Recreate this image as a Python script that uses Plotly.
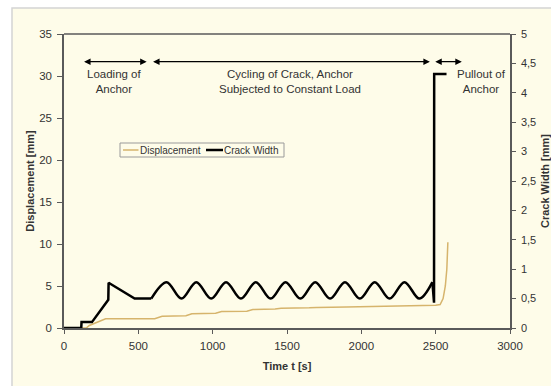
import plotly.graph_objects as go

# ---- data ----
disp_t = [0, 150, 170, 280, 610, 660, 820, 860, 1020, 1060, 1230, 1270, 1420, 1460,
          1650, 1700, 1900, 2100, 2300, 2450, 2500, 2530, 2550, 2565, 2575, 2582]
disp_mm = [0, 0, 0.3, 1.1, 1.1, 1.4, 1.45, 1.7, 1.75, 1.95, 2.0, 2.2, 2.25, 2.35,
           2.4, 2.45, 2.5, 2.55, 2.6, 2.65, 2.7, 2.8, 3.5, 5.0, 7.0, 10.2]

# crack width: loading part (straight segments)
cw_load_t = [0, 116, 118, 188, 298, 300, 475, 587]
cw_load_mm = [0, 0, 0.1, 0.1, 0.48, 0.77, 0.5, 0.5]
# crack width: cycling part (peaks / troughs, smooth)
cw_cyc_t = [587, 690, 790, 890, 990, 1090, 1190, 1290, 1390, 1490, 1590, 1690, 1790,
            1890, 1990, 2090, 2190, 2290, 2390, 2478]
cw_cyc_mm = [0.5, 0.78, 0.5, 0.78, 0.5, 0.78, 0.5, 0.78, 0.5, 0.78, 0.5, 0.78, 0.5,
             0.78, 0.5, 0.78, 0.5, 0.78, 0.5, 0.78]
# crack width: pullout part
cw_pull_t = [2478, 2489, 2490, 2573]
cw_pull_mm = [0.78, 0.43, 4.32, 4.32]

x_ticks = [0, 500, 1000, 1500, 2000, 2500, 3000]
y1_ticks = [0, 5, 10, 15, 20, 25, 30, 35]
y2_vals = [0, 0.5, 1, 1.5, 2, 2.5, 3, 3.5, 4, 4.5, 5]
y2_text = ["0", "0,5", "1", "1,5", "2", "2,5", "3", "3,5", "4", "4,5", "5"]

CREAM = "#fefce9"
TAN = "#d6b46c"
AX = "#5a5a5a"
TXT = "#333333"
FONT = "Liberation Sans, Arial, sans-serif"

# plot area in pixels (for legend box placement)
L, R, T, B = 64, 510, 34, 328


def px(x):
    return (x - L) / (R - L)


def py(y):
    return (B - y) / (B - T)


fig = go.Figure()
fig.add_trace(go.Scatter(x=disp_t, y=disp_mm, mode="lines", name="Displacement",
                         line=dict(color=TAN, width=1.5), yaxis="y"))
fig.add_trace(go.Scatter(x=cw_load_t, y=cw_load_mm, mode="lines", name="Crack Width",
                         line=dict(color="black", width=2.5), yaxis="y2"))
fig.add_trace(go.Scatter(x=cw_cyc_t, y=cw_cyc_mm, mode="lines", name="Crack Width",
                         line=dict(color="black", width=2.5, shape="spline", smoothing=1.0),
                         yaxis="y2"))
fig.add_trace(go.Scatter(x=cw_pull_t, y=cw_pull_mm, mode="lines", name="Crack Width",
                         line=dict(color="black", width=2.5), yaxis="y2"))

# outer frame (cream area with light grey border)
fig.add_shape(type="rect", xref="paper", yref="paper", x0=px(12), x1=px(600),
              y0=py(420), y1=py(8), fillcolor=CREAM, line=dict(color="#d4d4d4", width=1.5),
              layer="below")
# top border of plot area
fig.add_shape(type="line", xref="paper", yref="paper", x0=0, x1=1, y0=1, y1=1,
              line=dict(color=AX, width=1.5))

# manual compact legend
fig.add_shape(type="rect", xref="paper", yref="paper", x0=px(120), x1=px(284),
              y0=py(157), y1=py(143), fillcolor=CREAM, line=dict(color="#9a9a9a", width=1))
fig.add_shape(type="line", xref="paper", yref="paper", x0=px(123), x1=px(138.5),
              y0=py(150), y1=py(150), line=dict(color=TAN, width=1.5))
fig.add_shape(type="line", xref="paper", yref="paper", x0=px(206), x1=px(223),
              y0=py(150), y1=py(150), line=dict(color="black", width=2.5))
fig.add_annotation(x=px(140), y=py(150), xref="paper", yref="paper", text="Displacement",
                   showarrow=False, xanchor="left", yanchor="middle", xshift=-2,
                   font=dict(family=FONT, size=10, color=TXT))
fig.add_annotation(x=px(223.5), y=py(150), xref="paper", yref="paper", text="Crack Width",
                   showarrow=False, xanchor="left", yanchor="middle", xshift=-2,
                   font=dict(family=FONT, size=10, color=TXT))

# arrows
arrow_y = 31.7
arrows = [(125, 556), (589, 2461), (2487, 2676)]
for a, b in arrows:
    fig.add_annotation(x=b, y=arrow_y, ax=a, ay=arrow_y, xref="x", yref="y",
                       axref="x", ayref="y", text="", showarrow=True,
                       arrowhead=2, startarrowhead=2, arrowside="end+start",
                       arrowsize=1, startarrowsize=1, arrowwidth=1.3, arrowcolor="black")

labels = [(340, "Loading of<br>Anchor"),
          (1520, "Cycling of Crack, Anchor<br>Subjected to Constant Load"),
          (2810, "Pullout of<br>Anchor")]
for x, t in labels:
    fig.add_annotation(x=x, y=29.3, xref="x", yref="y", text=t, showarrow=False,
                       font=dict(family=FONT, size=11.5, color=TXT), align="center")

fig.update_layout(
    width=551, height=386,
    margin=dict(l=L, r=551 - R, t=T, b=386 - B, autoexpand=False),
    paper_bgcolor="white", plot_bgcolor=CREAM,
    font=dict(family=FONT, size=11.5, color=TXT),
    showlegend=False,
    xaxis=dict(range=[0, 3000], tickvals=x_ticks, showgrid=False, zeroline=False,
               showline=True, linecolor=AX, linewidth=1.5, ticks="outside",
               ticklen=4, tickcolor=AX, ticklabelstandoff=2, automargin=False,
               title=dict(text="<b>Time t [s]</b>", font=dict(size=11, color=TXT), standoff=12)),
    yaxis=dict(range=[0, 35], tickvals=y1_ticks, showgrid=False, zeroline=False,
               showline=True, linecolor=AX, linewidth=1.5, ticks="outside",
               ticklen=5, tickcolor=AX, ticklabelstandoff=3, automargin=False,
               title=dict(text="<b>Displacement [mm]</b>", font=dict(size=11, color=TXT), standoff=2)),
    yaxis2=dict(range=[0, 5], tickvals=y2_vals, ticktext=y2_text, overlaying="y",
                side="right", showgrid=False, zeroline=False, showline=True,
                linecolor=AX, linewidth=1.5, ticks="outside", ticklen=4, tickcolor=AX,
                ticklabelstandoff=3, automargin=False, tickfont=dict(size=11),
                title=dict(text="<b>Crack Width [mm]</b>", font=dict(size=11, color=TXT), standoff=8)),
)

fig.write_html("out.html")
